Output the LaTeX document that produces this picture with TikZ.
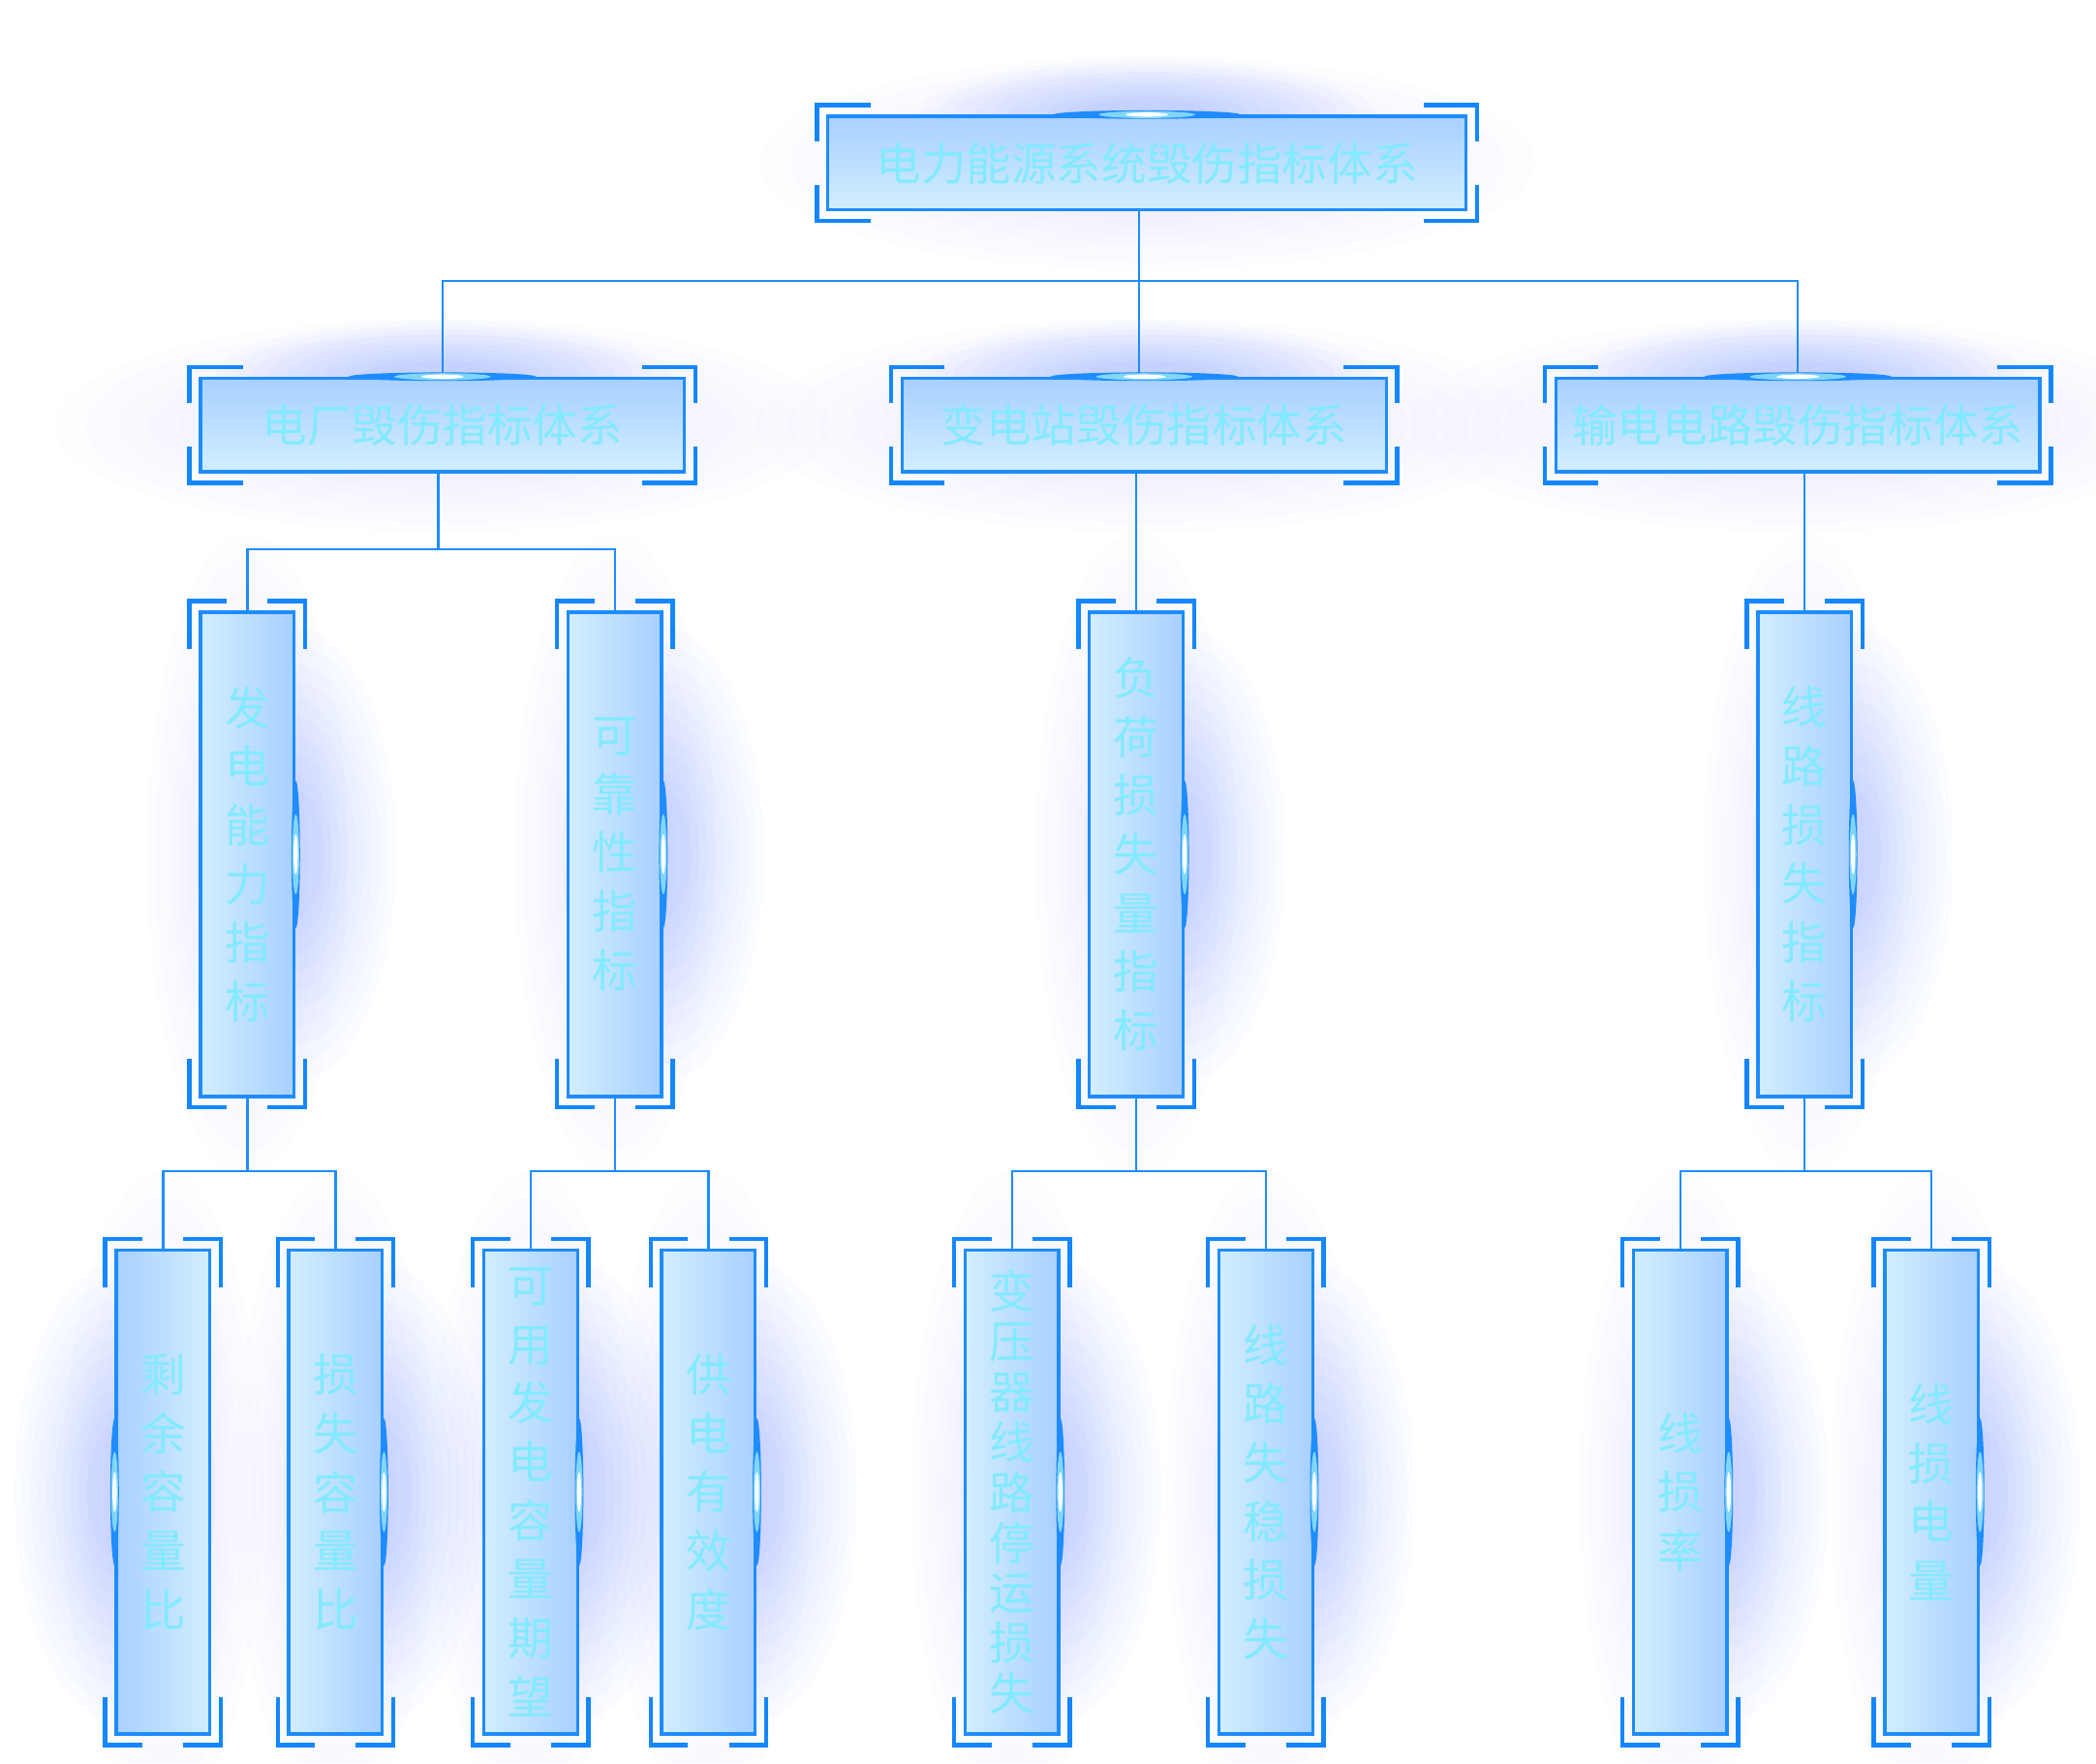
\documentclass[tikz,border=0pt]{standalone}
\usepackage{fontspec}
\setmainfont{Noto Sans CJK SC}
\usetikzlibrary{calc}
\pgfdeclarelayer{bg}
\pgfsetlayers{bg,main}

\definecolor{edge}{HTML}{1E8CFF}
\definecolor{brk}{HTML}{1486FF}
\definecolor{boxlight}{HTML}{D2EEFF}
\definecolor{boxdark}{HTML}{A8D0FF}
\definecolor{txt}{HTML}{82EAFF}
\definecolor{halo}{HTML}{2F6BFF}

\newcommand{\corners}[3]{%
  \draw[bracket] ([shift={(-7,-7)}]#1.north west) ++(#2,0) -- ++(-#2,0) -- ++(0,#3);
  \draw[bracket] ([shift={(7,-7)}]#1.north east) ++(-#2,0) -- ++(#2,0) -- ++(0,#3);
  \draw[bracket] ([shift={(-7,7)}]#1.south west) ++(#2,0) -- ++(-#2,0) -- ++(0,-#3);
  \draw[bracket] ([shift={(7,7)}]#1.south east) ++(-#2,0) -- ++(#2,0) -- ++(0,-#3);}
\newcommand{\glow}[4]{%
  \foreach \s in {1,0.92,...,0.2}
    \fill[halo,opacity=#4] (#1) ellipse [x radius={\s*#2}, y radius={\s*#3}];}
\newcommand{\sparkv}[1]{%
  \fill[edge] (#1) ellipse [x radius=0.032cm, y radius=0.55cm];
  \fill[cyan!50!white] (#1) ellipse [x radius=0.026cm, y radius=0.3cm];
  \fill[white] (#1) ellipse [x radius=0.016cm, y radius=0.15cm];}
\newcommand{\sparkh}[1]{%
  \fill[edge] (#1) ellipse [x radius=0.7cm, y radius=0.032cm];
  \fill[cyan!50!white] (#1) ellipse [x radius=0.36cm, y radius=0.026cm];
  \fill[white] (#1) ellipse [x radius=0.16cm, y radius=0.016cm];}

\begin{document}
\begin{tikzpicture}[x=0.01cm, y=-0.01cm,
  hbox/.style={draw=edge, line width=0.7pt, top color=boxdark, bottom color=boxlight,
    minimum width=3.62cm, minimum height=0.7cm, inner sep=0pt, text=txt,
    font=\fontsize{9.6}{12.5}\selectfont},
  vbox/.style={draw=edge, line width=0.7pt, left color=boxlight, right color=boxdark,
    minimum width=0.7cm, minimum height=3.62cm, inner sep=0pt, align=center, text=txt,
    font=\fontsize{9.6}{12.5}\selectfont},
  bracket/.style={draw=brk, line width=0.9pt},
  link/.style={draw=edge, line width=0.5pt}]
  \useasboundingbox (0,0) rectangle (1568,1319);

  \node[hbox, minimum width=4.77cm] (top) at (858,122) {电力能源系统毁伤指标体系};

  \node[hbox] (plant) at (331,318) {电厂毁伤指标体系};
  \node[hbox] (station) at (856,318) {变电站毁伤指标体系};
  \node[hbox] (grid) at (1345,318) {输电电路毁伤指标体系};

  \node[vbox] (gen) at (185,639) {发\\电\\能\\力\\指\\标};
  \node[vbox] (rel) at (460,639) {可\\靠\\性\\指\\标};
  \node[vbox] (load) at (850,639) {负\\荷\\损\\失\\量\\指\\标};
  \node[vbox] (loss) at (1350,639) {线\\路\\损\\失\\指\\标};

  \node[vbox, left color=boxdark, right color=boxlight] (spare) at (122,1116) {剩\\余\\容\\量\\比};
  \node[vbox] (lost) at (251,1116) {损\\失\\容\\量\\比};
  \node[vbox] (expect) at (397,1116) {可\\用\\发\\电\\容\\量\\期\\望};
  \node[vbox] (supply) at (530,1116) {供\\电\\有\\效\\度};
  \node[vbox, font=\fontsize{9.6}{10.7}\selectfont] (outage) at (757,1116) {变\\压\\器\\线\\路\\停\\运\\损\\失};
  \node[vbox] (unstab) at (947,1116) {线\\路\\失\\稳\\损\\失};
  \node[vbox] (rate) at (1257,1116) {线\\损\\率};
  \node[vbox] (energy) at (1445,1116) {线\\损\\电\\量};

  \coordinate (j0) at (852,210);
  \coordinate (j1) at (328,411);
  \coordinate (j2) at (185,876);
  \coordinate (j3) at (460,876);
  \coordinate (j4) at (850,876);
  \coordinate (j5) at (1350,876);

  \draw[link] (top.south -| j0) -- (j0);
  \draw[link] (plant) |- (j0) -| (grid);
  \draw[link] (j0) -- (station.north -| j0);
  \draw[link] (plant.south -| j1) -- (j1);
  \draw[link] (gen) |- (j1) -| (rel);
  \draw[link] (station.south -| load) -- (load);
  \draw[link] (grid.south -| loss) -- (loss);
  \draw[link] (gen) -- (j2);
  \draw[link] (spare) |- (j2) -| (lost);
  \draw[link] (rel) -- (j3);
  \draw[link] (expect) |- (j3) -| (supply);
  \draw[link] (load) -- (j4);
  \draw[link] (outage) |- (j4) -| (unstab);
  \draw[link] (loss) -- (j5);
  \draw[link] (rate) |- (j5) -| (energy);

  \begin{pgfonlayer}{bg}
    \fill[white] (0,0) rectangle (1568,1319);
    \foreach \n in {top,plant,station,grid}
      \glow{\n}{2.9cm}{0.8cm}{0.008};
    \foreach \n in {top,plant,station,grid}
      \glow{\n.north}{1.7cm}{0.42cm}{0.022};
    \foreach \n in {gen,rel,load,loss,spare,lost,expect,supply,outage,unstab,rate,energy}
      \glow{\n}{0.75cm}{2.4cm}{0.008};
    \foreach \n in {gen,rel,load,loss,lost,expect,supply,outage,unstab,rate,energy}
      \glow{\n.east}{0.75cm}{1.7cm}{0.02};
    \glow{spare.west}{0.75cm}{1.7cm}{0.02};
  \end{pgfonlayer}

  \foreach \n in {top,plant,station,grid}
    \corners{\n}{40}{27};
  \foreach \n in {gen,rel,load,loss,spare,lost,expect,supply,outage,unstab,rate,energy}
    \corners{\n}{28}{36};

  \foreach \n in {top,plant,station,grid}
    \sparkh{\n.north};
  \foreach \n in {gen,rel,load,loss,lost,expect,supply,outage,unstab,rate,energy}
    \sparkv{\n.east};
  \sparkv{spare.west};
\end{tikzpicture}
\end{document}
